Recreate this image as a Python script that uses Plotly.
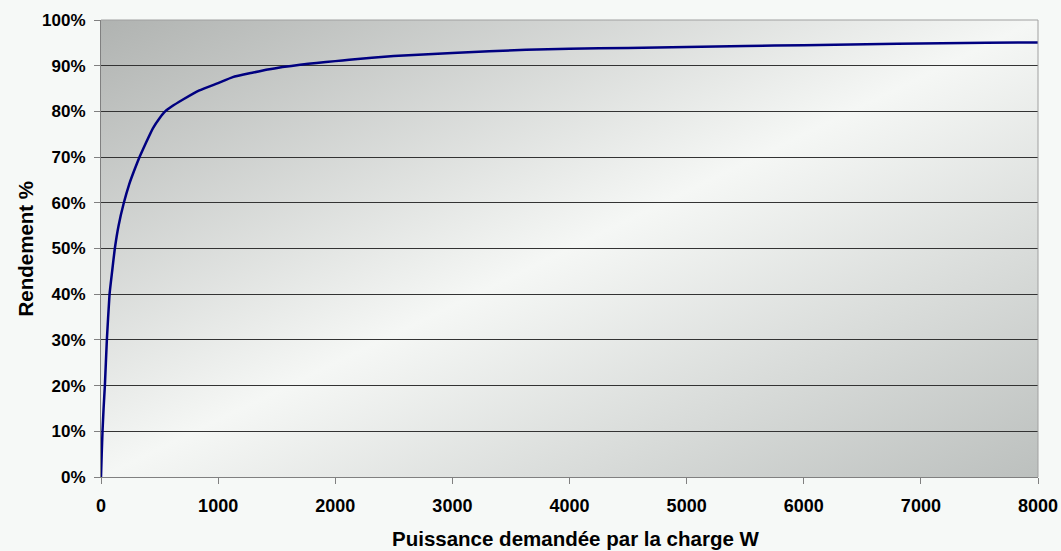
import base64
import plotly.graph_objects as go

# Data
power_w = [0, 6, 13, 22, 33, 50, 73, 95, 118, 150, 195, 240, 290, 329, 385, 443,
           500, 548, 600, 700, 840, 1000, 1125, 1300, 1410, 1550, 1700, 1840, 2000,
           2120, 2500, 3000, 3630, 4000, 4500, 5000, 5500, 6000, 6800, 7560, 8000]
efficiency_pct = [0, 5, 10, 15, 20, 30, 40, 45, 50, 55, 60, 64, 67.5, 70, 73.2, 76.3,
                  78.5, 80, 81, 82.6, 84.6, 86.2, 87.5, 88.5, 89.1, 89.7, 90.2, 90.6, 91.0,
                  91.3, 92.1, 92.8, 93.5, 93.7, 93.9, 94.1, 94.3, 94.5, 94.8, 95.0, 95.1]

y_ticks = [0, 10, 20, 30, 40, 50, 60, 70, 80, 90, 100]
x_ticks = [0, 1000, 2000, 3000, 4000, 5000, 6000, 7000, 8000]

x_title = "Puissance demandée par la charge W"
y_title = "Rendement %"

svg = (
    '<svg xmlns="http://www.w3.org/2000/svg" width="937" height="457" '
    'viewBox="0 0 937 457" preserveAspectRatio="none">'
    '<defs><linearGradient id="g" x1="0" y1="0" x2="1" y2="1">'
    '<stop offset="0" stop-color="#b0b3b1"/>'
    '<stop offset="0.5" stop-color="#f5f7f5"/>'
    '<stop offset="1" stop-color="#bcc0be"/>'
    '</linearGradient></defs>'
    '<rect x="0" y="0" width="937" height="457" fill="url(#g)"/></svg>'
)
src = "data:image/svg+xml;base64," + base64.b64encode(svg.encode()).decode()

font_family = "Liberation Sans, Arial, sans-serif"

fig = go.Figure()
fig.add_trace(go.Scatter(
    x=power_w, y=efficiency_pct, mode="lines",
    line=dict(color="#000080", width=2.5, shape="spline", smoothing=0.4),
    showlegend=False, hoverinfo="skip",
))

fig.update_layout(
    width=1061, height=551,
    margin=dict(l=101, r=23, t=20, b=74, autoexpand=False),
    paper_bgcolor="#f6f9f7",
    plot_bgcolor="rgba(0,0,0,0)",
    images=[dict(source=src, xref="x domain", yref="y domain", x=0, y=1,
                 sizex=1, sizey=1, xanchor="left", yanchor="top",
                 sizing="stretch", layer="below")],
    font=dict(family=font_family, size=17, color="#000000", weight="bold"),
    shapes=[
        dict(type="line", xref="paper", yref="paper", x0=0, x1=1, y0=1, y1=1,
             line=dict(color="#a0a0a0", width=1), layer="above"),
        dict(type="line", xref="paper", yref="paper", x0=1, x1=1, y0=0, y1=1,
             line=dict(color="#a0a0a0", width=1), layer="above"),
    ],
    annotations=[
        dict(text=x_title, xref="paper", yref="paper", x=0.5, y=0,
             xanchor="center", yanchor="middle", yshift=-61, xshift=6,
             showarrow=False, font=dict(size=20.5, family=font_family, weight="bold")),
        dict(text=y_title, xref="paper", yref="paper", x=0, y=0.5,
             xanchor="center", yanchor="middle", xshift=-76, textangle=-90,
             showarrow=False, font=dict(size=20.5, family=font_family, weight="bold")),
    ],
)

fig.update_xaxes(
    range=[0, 8000], tickvals=x_ticks, ticktext=[str(v) for v in x_ticks],
    showgrid=False, zeroline=False, automargin=False,
    showline=True, linecolor="#808080", linewidth=1,
    ticks="outside", ticklen=6, tickcolor="#808080",
    ticklabelstandoff=6, tickfont=dict(size=18),
)
fig.update_yaxes(
    range=[0, 100], tickvals=y_ticks, ticktext=[f"{v}%" for v in y_ticks],
    showgrid=True, gridcolor="#333333", gridwidth=1,
    zeroline=False, automargin=False,
    showline=True, linecolor="#808080", linewidth=1,
    ticks="outside", ticklen=6, tickcolor="#808080",
    ticklabelstandoff=5,
)

fig.write_html("out.html")
